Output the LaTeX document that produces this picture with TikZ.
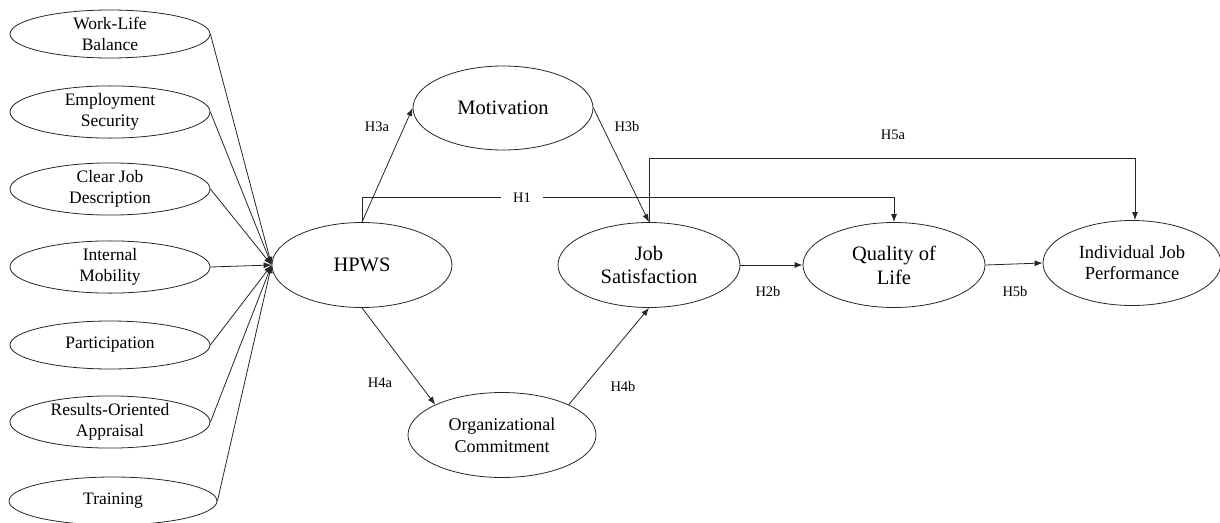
\documentclass[tikz,border=0pt]{standalone}
\usepackage{fontspec}
\setmainfont{Liberation Serif}
\usetikzlibrary{shapes.geometric,arrows.meta}
\begin{document}
\begin{tikzpicture}[x=1pt,y=-1pt,
  ell/.style={ellipse, draw=black!85, line width=0.8pt, inner sep=0pt, align=center},
  leftell/.style={ell, minimum width=200pt, minimum height=48pt, font=\fontsize{17.5}{21}\selectfont},
  bigell/.style={ell, minimum width=182pt, minimum height=85pt, font=\fontsize{20.5}{24}\selectfont},
  arr/.style={draw=black!85, line width=0.8pt, -{Latex[length=8pt,width=6pt]}},
  lbl/.style={font=\fontsize{14.5}{16}\selectfont, inner sep=1pt}
]
\useasboundingbox (0,0) rectangle (1220,522);
% left indicators
\node[leftell] (wlb) at (110,34) {Work-Life\\Balance};
\node[leftell] (es) at (110,112) {Employment\\Security};
\node[leftell] (cjd) at (110,189) {Clear Job\\Description};
\node[leftell] (im) at (110,267) {Internal\\Mobility};
\node[leftell] (par) at (110,345) {Participation};
\node[leftell] (roa) at (110,422) {Results-Oriented\\Appraisal};
\node[leftell, minimum width=208pt] (tr) at (113,501) {Training};
% constructs
\node[bigell, minimum width=180pt] (hpws) at (362,265) {HPWS};
\node[bigell, minimum width=180pt, minimum height=84pt] (mot) at (503,108) {Motivation};
\node[bigell] (js) at (649,265) {Job\\[-1pt]Satisfaction};
\node[bigell, minimum width=188pt, font=\fontsize{18}{22}\selectfont] (org) at (502,435) {Organizational\\Commitment};
\node[bigell] (qol) at (894,265) {Quality of\\Life};
\node[bigell, minimum width=178pt, font=\fontsize{18.5}{21}\selectfont] (ijp) at (1132,263) {Individual Job\\Performance};
% indicator arrows
\foreach \n in {wlb,es,cjd,im,par,roa,tr}
  \draw[arr] (\n.east) -- (hpws.west);
% structural paths
\draw[arr] (hpws.north) -- (mot.west);
\draw[arr] (mot.east) -- (js.north);
\draw[arr] (hpws.north) -- ++(0,-25) -| (qol.north);
\draw[arr] (js.north) -- ++(0,-64) -| ([xshift=3pt]ijp.north);
\draw[arr] (js.east) -- (qol.west);
\draw[arr] (qol.east) -- (ijp.west);
\draw[arr] (hpws.south) -- (org.north west);
\draw[arr] (org.north east) -- (js.south);
% labels
\node[lbl] (h3a) at (377,127) {H3a};
\node[lbl] (h3b) at (627,127) {H3b};
\node[lbl, fill=white, inner xsep=12pt] (h1) at (522,198) {H1};
\node[lbl] (h5a) at (893,135) {H5a};
\node[lbl] (h2b) at (768,292) {H2b};
\node[lbl] (h5b) at (1015,292) {H5b};
\node[lbl] (h4a) at (380,383) {H4a};
\node[lbl] (h4b) at (623,387) {H4b};
\end{tikzpicture}
\end{document}
